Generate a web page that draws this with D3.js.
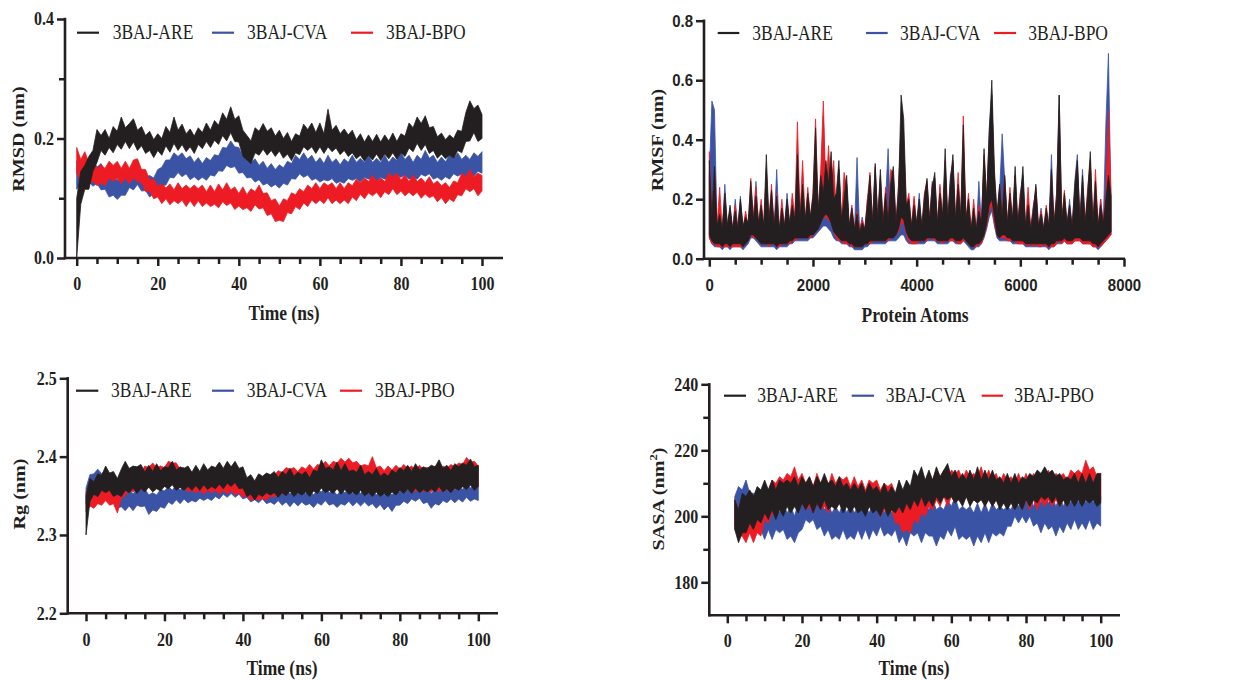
<!DOCTYPE html>
<meta charset="utf-8">
<title>3BAJ MD analysis</title>
<style>
  body { margin: 0; background: #fff; }
</style>
<svg width="1241" height="680"></svg>
<script src="https://d3js.org/d3.v7.min.js"></script>
<script>

// ---- data ----
// the traces are very noisy, so each series is kept as the upper and the
// lower edge of its band, read once per ns (or once per 50 atoms for RMSF)

// RMSD (nm), 0..100 ns
var rmsdAREhi = [0.10,0.145,0.155,0.17,0.18,0.215,0.205,0.215,0.20,0.22,
  0.212,0.236,0.218,0.225,0.233,0.214,0.22,0.205,0.212,0.198,
  0.208,0.20,0.22,0.21,0.236,0.214,0.224,0.208,0.216,0.204,
  0.218,0.21,0.226,0.214,0.23,0.222,0.243,0.232,0.253,0.232,
  0.238,0.214,0.205,0.196,0.218,0.212,0.225,0.212,0.218,0.204,
  0.214,0.20,0.21,0.195,0.208,0.204,0.224,0.215,0.226,0.21,
  0.226,0.208,0.249,0.214,0.222,0.208,0.216,0.206,0.214,0.198,
  0.208,0.194,0.206,0.195,0.207,0.194,0.206,0.196,0.209,0.195,
  0.208,0.204,0.226,0.218,0.236,0.225,0.238,0.218,0.22,0.203,
  0.209,0.198,0.206,0.20,0.214,0.212,0.243,0.263,0.25,0.256,0.24];
var rmsdARElo = [0.0,0.09,0.115,0.115,0.145,0.16,0.18,0.172,0.185,0.176,
  0.19,0.182,0.195,0.183,0.194,0.18,0.188,0.175,0.18,0.168,
  0.18,0.172,0.188,0.177,0.192,0.18,0.19,0.178,0.186,0.175,
  0.19,0.183,0.195,0.185,0.197,0.19,0.205,0.196,0.21,0.195,
  0.194,0.17,0.164,0.158,0.176,0.172,0.182,0.172,0.18,0.17,
  0.179,0.167,0.174,0.163,0.176,0.173,0.186,0.18,0.186,0.175,
  0.186,0.175,0.186,0.178,0.184,0.173,0.18,0.17,0.176,0.166,
  0.172,0.162,0.172,0.164,0.174,0.163,0.174,0.166,0.176,0.165,
  0.176,0.17,0.184,0.178,0.192,0.18,0.19,0.175,0.18,0.167,
  0.174,0.166,0.172,0.166,0.18,0.176,0.195,0.196,0.21,0.195,0.20];
var rmsdCVAhi = [0.162,0.158,0.166,0.156,0.166,0.152,0.158,0.145,0.142,0.13,
  0.132,0.126,0.138,0.142,0.15,0.146,0.148,0.136,0.138,0.134,
  0.148,0.152,0.164,0.164,0.176,0.17,0.176,0.166,0.171,0.16,
  0.168,0.158,0.168,0.163,0.173,0.171,0.185,0.184,0.196,0.186,
  0.185,0.17,0.176,0.16,0.166,0.155,0.162,0.15,0.158,0.148,
  0.156,0.151,0.162,0.158,0.172,0.165,0.176,0.165,0.172,0.16,
  0.168,0.158,0.172,0.16,0.166,0.156,0.166,0.16,0.172,0.16,
  0.167,0.16,0.172,0.16,0.167,0.16,0.172,0.16,0.169,0.163,
  0.176,0.165,0.172,0.16,0.172,0.165,0.18,0.167,0.172,0.16,
  0.169,0.161,0.172,0.165,0.176,0.165,0.172,0.165,0.176,0.17,0.178];
var rmsdCVAlo = [0.115,0.124,0.118,0.128,0.12,0.125,0.114,0.115,0.102,0.105,
  0.098,0.105,0.105,0.118,0.114,0.123,0.112,0.113,0.102,0.108,
  0.107,0.121,0.122,0.135,0.134,0.143,0.136,0.141,0.131,0.136,
  0.13,0.135,0.13,0.139,0.137,0.146,0.145,0.155,0.151,0.153,
  0.142,0.143,0.134,0.135,0.127,0.131,0.122,0.125,0.119,0.123,
  0.117,0.125,0.122,0.133,0.132,0.141,0.135,0.139,0.13,0.133,
  0.127,0.131,0.129,0.133,0.125,0.128,0.125,0.133,0.13,0.133,
  0.127,0.135,0.132,0.135,0.127,0.135,0.132,0.136,0.13,0.138,
  0.135,0.139,0.132,0.135,0.132,0.14,0.137,0.141,0.132,0.135,
  0.13,0.136,0.132,0.141,0.137,0.141,0.133,0.141,0.137,0.145,0.142];
var rmsdBPOhi = [0.185,0.165,0.178,0.16,0.162,0.15,0.156,0.15,0.162,0.155,
  0.162,0.15,0.162,0.15,0.164,0.166,0.148,0.148,0.13,0.133,
  0.12,0.124,0.117,0.124,0.114,0.126,0.116,0.122,0.116,0.122,
  0.116,0.122,0.111,0.122,0.111,0.124,0.114,0.126,0.114,0.119,
  0.108,0.119,0.106,0.116,0.111,0.122,0.108,0.109,0.096,0.099,
  0.087,0.099,0.096,0.109,0.106,0.116,0.111,0.122,0.116,0.126,
  0.116,0.126,0.121,0.126,0.116,0.126,0.116,0.126,0.121,0.132,
  0.126,0.134,0.128,0.139,0.128,0.134,0.128,0.142,0.136,0.142,
  0.131,0.139,0.128,0.139,0.128,0.134,0.126,0.136,0.124,0.129,
  0.121,0.126,0.118,0.129,0.126,0.142,0.136,0.148,0.136,0.142,0.138];
var rmsdBPOlo = [0.142,0.128,0.134,0.124,0.129,0.121,0.126,0.121,0.134,0.128,
  0.134,0.124,0.134,0.124,0.134,0.128,0.126,0.111,0.112,0.099,
  0.102,0.091,0.099,0.089,0.096,0.091,0.097,0.086,0.096,0.086,
  0.096,0.086,0.092,0.086,0.09,0.084,0.094,0.088,0.092,0.081,
  0.087,0.081,0.084,0.078,0.089,0.082,0.084,0.071,0.074,0.061,
  0.063,0.061,0.076,0.074,0.086,0.081,0.092,0.086,0.097,0.091,
  0.097,0.091,0.101,0.091,0.097,0.091,0.097,0.091,0.102,0.096,
  0.107,0.099,0.109,0.104,0.11,0.101,0.111,0.106,0.116,0.106,
  0.112,0.104,0.11,0.104,0.11,0.10,0.107,0.101,0.104,0.094,
  0.101,0.091,0.099,0.094,0.106,0.104,0.116,0.111,0.116,0.104,0.112];

// RMSF (nm), every 50 atoms, 0..7750
var rmsfAREhi = [0.33,0.14,0.31,0.11,0.15,0.10,0.22,0.11,0.18,0.10,
  0.16,0.10,0.20,0.11,0.14,0.12,0.26,0.13,0.21,0.12,
  0.18,0.11,0.35,0.13,0.23,0.11,0.21,0.10,0.17,0.11,
  0.20,0.12,0.18,0.13,0.35,0.14,0.25,0.13,0.22,0.14,
  0.21,0.44,0.16,0.28,0.22,0.33,0.25,0.36,0.20,0.22,
  0.33,0.13,0.20,0.28,0.11,0.17,0.10,0.15,0.09,0.12,
  0.10,0.18,0.28,0.12,0.32,0.13,0.30,0.12,0.22,0.13,
  0.25,0.31,0.12,0.22,0.55,0.47,0.18,0.20,0.11,0.18,
  0.12,0.20,0.11,0.21,0.27,0.13,0.24,0.29,0.12,0.22,
  0.14,0.37,0.13,0.26,0.35,0.13,0.25,0.14,0.45,0.13,
  0.20,0.10,0.17,0.10,0.16,0.12,0.37,0.20,0.42,0.60,
  0.30,0.15,0.25,0.14,0.28,0.12,0.22,0.13,0.31,0.12,
  0.20,0.31,0.11,0.18,0.10,0.16,0.25,0.11,0.15,0.10,
  0.17,0.11,0.30,0.12,0.20,0.55,0.13,0.22,0.12,0.18,
  0.11,0.24,0.33,0.13,0.28,0.12,0.22,0.36,0.12,0.26,
  0.11,0.18,0.12,0.20,0.28,0.21];
var rmsfARElo = [0.08,0.06,0.05,0.05,0.05,0.04,0.05,0.05,0.04,0.05,
  0.05,0.05,0.05,0.04,0.05,0.06,0.08,0.08,0.07,0.06,
  0.05,0.05,0.05,0.05,0.05,0.05,0.04,0.05,0.05,0.05,
  0.05,0.06,0.06,0.07,0.07,0.07,0.07,0.07,0.07,0.08,
  0.08,0.09,0.10,0.12,0.14,0.15,0.14,0.12,0.09,0.08,
  0.07,0.06,0.06,0.06,0.05,0.05,0.04,0.04,0.04,0.04,
  0.05,0.05,0.06,0.06,0.06,0.06,0.06,0.06,0.06,0.07,
  0.07,0.07,0.08,0.10,0.14,0.13,0.09,0.07,0.06,0.06,
  0.06,0.06,0.06,0.06,0.07,0.07,0.07,0.07,0.06,0.06,
  0.06,0.06,0.06,0.07,0.07,0.06,0.06,0.06,0.07,0.06,
  0.05,0.04,0.04,0.05,0.05,0.06,0.08,0.12,0.18,0.20,
  0.14,0.08,0.07,0.08,0.08,0.07,0.07,0.06,0.06,0.06,
  0.06,0.06,0.05,0.05,0.05,0.05,0.05,0.05,0.05,0.05,
  0.05,0.04,0.05,0.05,0.06,0.06,0.06,0.07,0.06,0.06,
  0.06,0.07,0.07,0.07,0.06,0.06,0.06,0.06,0.05,0.05,
  0.04,0.05,0.06,0.07,0.08,0.09];
var rmsfCVAhi = [0.28,0.53,0.50,0.10,0.17,0.09,0.25,0.10,0.16,0.09,
  0.20,0.10,0.21,0.09,0.15,0.10,0.22,0.13,0.26,0.11,
  0.16,0.10,0.22,0.12,0.20,0.10,0.30,0.09,0.15,0.10,
  0.22,0.11,0.16,0.12,0.30,0.13,0.20,0.12,0.18,0.13,
  0.19,0.38,0.14,0.25,0.48,0.18,0.30,0.19,0.28,0.13,
  0.30,0.12,0.18,0.25,0.10,0.15,0.09,0.34,0.09,0.14,
  0.09,0.20,0.25,0.11,0.30,0.12,0.27,0.11,0.20,0.37,
  0.12,0.28,0.11,0.25,0.40,0.30,0.15,0.18,0.10,0.20,
  0.11,0.22,0.10,0.18,0.25,0.12,0.26,0.24,0.11,0.24,
  0.13,0.30,0.12,0.28,0.32,0.12,0.23,0.13,0.40,0.12,
  0.18,0.09,0.15,0.09,0.26,0.11,0.33,0.16,0.44,0.55,
  0.25,0.13,0.22,0.42,0.26,0.11,0.20,0.12,0.28,0.11,
  0.22,0.28,0.10,0.20,0.10,0.18,0.22,0.10,0.17,0.10,
  0.15,0.10,0.35,0.11,0.22,0.55,0.12,0.20,0.11,0.20,
  0.10,0.26,0.35,0.12,0.30,0.11,0.20,0.32,0.11,0.24,
  0.10,0.20,0.11,0.45,0.69,0.18];
var rmsfCVAlo = [0.07,0.05,0.04,0.04,0.04,0.03,0.04,0.04,0.03,0.04,
  0.04,0.04,0.04,0.03,0.04,0.05,0.07,0.07,0.06,0.05,
  0.04,0.04,0.04,0.04,0.04,0.04,0.03,0.04,0.04,0.04,
  0.04,0.05,0.05,0.06,0.06,0.06,0.06,0.06,0.06,0.07,
  0.07,0.08,0.09,0.10,0.11,0.11,0.10,0.09,0.07,0.06,
  0.06,0.05,0.05,0.05,0.04,0.04,0.03,0.03,0.03,0.03,
  0.04,0.04,0.05,0.05,0.05,0.05,0.05,0.05,0.05,0.06,
  0.06,0.06,0.06,0.07,0.08,0.08,0.06,0.05,0.05,0.05,
  0.05,0.05,0.05,0.05,0.06,0.06,0.06,0.06,0.05,0.05,
  0.05,0.05,0.05,0.06,0.06,0.05,0.05,0.05,0.06,0.05,
  0.04,0.03,0.03,0.04,0.04,0.05,0.07,0.10,0.14,0.16,
  0.11,0.07,0.06,0.06,0.06,0.06,0.06,0.05,0.05,0.05,
  0.05,0.05,0.04,0.04,0.04,0.04,0.04,0.04,0.04,0.04,
  0.04,0.03,0.04,0.04,0.05,0.05,0.05,0.06,0.05,0.05,
  0.05,0.06,0.06,0.06,0.05,0.05,0.05,0.05,0.04,0.04,
  0.03,0.04,0.05,0.06,0.07,0.08];
var rmsfBPOhi = [0.36,0.14,0.28,0.11,0.24,0.10,0.20,0.11,0.17,0.10,
  0.18,0.10,0.19,0.10,0.16,0.11,0.27,0.14,0.24,0.12,
  0.20,0.11,0.30,0.13,0.25,0.11,0.22,0.10,0.20,0.11,
  0.18,0.12,0.22,0.14,0.46,0.15,0.33,0.13,0.24,0.14,
  0.22,0.47,0.16,0.30,0.53,0.22,0.38,0.23,0.33,0.15,
  0.30,0.13,0.29,0.24,0.11,0.18,0.10,0.16,0.10,0.13,
  0.10,0.20,0.29,0.12,0.31,0.13,0.28,0.12,0.24,0.13,
  0.30,0.29,0.12,0.24,0.45,0.40,0.18,0.22,0.11,0.21,
  0.12,0.18,0.11,0.22,0.26,0.13,0.25,0.27,0.12,0.25,
  0.14,0.33,0.13,0.25,0.33,0.13,0.29,0.14,0.48,0.13,
  0.22,0.10,0.20,0.10,0.18,0.12,0.35,0.20,0.40,0.52,
  0.28,0.15,0.24,0.15,0.27,0.12,0.24,0.13,0.28,0.12,
  0.22,0.25,0.11,0.24,0.10,0.17,0.24,0.11,0.16,0.10,
  0.18,0.11,0.28,0.12,0.22,0.50,0.13,0.23,0.12,0.17,
  0.11,0.22,0.30,0.13,0.26,0.12,0.24,0.33,0.12,0.30,
  0.11,0.20,0.12,0.22,0.50,0.22];
var rmsfBPOlo = [0.07,0.05,0.05,0.04,0.04,0.04,0.04,0.04,0.04,0.04,
  0.04,0.04,0.04,0.04,0.05,0.06,0.08,0.07,0.07,0.06,
  0.05,0.05,0.05,0.04,0.05,0.05,0.04,0.04,0.05,0.05,
  0.05,0.05,0.06,0.06,0.07,0.07,0.07,0.07,0.07,0.07,
  0.08,0.09,0.10,0.12,0.14,0.14,0.13,0.12,0.09,0.07,
  0.06,0.06,0.05,0.05,0.05,0.04,0.04,0.04,0.04,0.04,
  0.05,0.05,0.05,0.06,0.06,0.06,0.06,0.06,0.06,0.06,
  0.07,0.07,0.08,0.09,0.12,0.12,0.08,0.06,0.05,0.05,
  0.05,0.06,0.06,0.06,0.06,0.07,0.07,0.06,0.06,0.06,
  0.05,0.06,0.06,0.06,0.06,0.06,0.05,0.05,0.06,0.06,
  0.05,0.04,0.04,0.04,0.05,0.05,0.08,0.11,0.16,0.18,
  0.12,0.08,0.07,0.07,0.07,0.06,0.06,0.06,0.06,0.05,
  0.05,0.05,0.05,0.04,0.05,0.04,0.05,0.04,0.04,0.05,
  0.04,0.04,0.04,0.04,0.05,0.06,0.05,0.06,0.05,0.05,
  0.05,0.06,0.06,0.06,0.05,0.05,0.05,0.05,0.04,0.04,
  0.04,0.04,0.05,0.06,0.07,0.08];

// Rg (nm), 0..100 ns
var rgAREhi = [2.35,2.372,2.368,2.378,2.376,2.388,2.379,2.381,2.372,2.384,
  2.394,2.385,2.388,2.387,2.39,2.38,2.389,2.381,2.391,2.382,
  2.387,2.386,2.394,2.383,2.387,2.385,2.388,2.38,2.389,2.381,
  2.391,2.383,2.388,2.386,2.393,2.385,2.394,2.387,2.394,2.385,
  2.387,2.373,2.377,2.369,2.378,2.375,2.379,2.377,2.381,2.373,
  2.381,2.377,2.385,2.375,2.38,2.377,2.381,2.373,2.383,2.381,
  2.396,2.385,2.387,2.383,2.393,2.382,2.391,2.381,2.383,2.38,
  2.389,2.377,2.381,2.377,2.385,2.375,2.379,2.375,2.383,2.379,
  2.386,2.382,2.389,2.381,2.391,2.383,2.387,2.385,2.389,2.387,
  2.396,2.385,2.389,2.382,2.391,2.387,2.392,2.389,2.397,2.387,2.389];
var rgARElo = [2.30,2.343,2.352,2.349,2.357,2.354,2.357,2.349,2.352,2.349,
  2.357,2.354,2.36,2.353,2.359,2.355,2.361,2.355,2.359,2.356,
  2.362,2.359,2.364,2.357,2.361,2.357,2.362,2.357,2.363,2.357,
  2.364,2.358,2.362,2.359,2.365,2.359,2.366,2.362,2.367,2.359,
  2.36,2.349,2.352,2.345,2.352,2.349,2.354,2.351,2.354,2.348,
  2.354,2.35,2.356,2.349,2.354,2.351,2.355,2.349,2.356,2.353,
  2.36,2.354,2.357,2.353,2.359,2.352,2.358,2.352,2.355,2.351,
  2.357,2.35,2.354,2.349,2.355,2.349,2.353,2.349,2.355,2.351,
  2.357,2.353,2.359,2.353,2.36,2.354,2.358,2.355,2.359,2.355,
  2.362,2.355,2.359,2.354,2.36,2.357,2.362,2.358,2.364,2.357,2.362];
var rgCVAhi = [2.36,2.377,2.378,2.384,2.378,2.384,2.375,2.377,2.358,2.36,
  2.354,2.359,2.352,2.36,2.357,2.359,2.351,2.354,2.351,2.358,
  2.356,2.362,2.357,2.364,2.357,2.364,2.357,2.36,2.357,2.364,
  2.359,2.362,2.359,2.366,2.362,2.368,2.363,2.37,2.363,2.369,
  2.361,2.364,2.357,2.36,2.355,2.362,2.355,2.358,2.354,2.36,
  2.353,2.359,2.352,2.358,2.352,2.359,2.353,2.357,2.351,2.358,
  2.355,2.362,2.354,2.357,2.351,2.357,2.354,2.36,2.353,2.359,
  2.353,2.359,2.353,2.357,2.351,2.357,2.351,2.357,2.351,2.358,
  2.355,2.36,2.357,2.364,2.361,2.365,2.357,2.36,2.353,2.359,
  2.355,2.362,2.357,2.364,2.357,2.364,2.358,2.366,2.36,2.364,2.362];
var rgCVAlo = [2.34,2.352,2.35,2.357,2.353,2.355,2.348,2.347,2.334,2.336,
  2.331,2.337,2.331,2.338,2.336,2.337,2.326,2.332,2.33,2.336,
  2.334,2.342,2.339,2.345,2.34,2.346,2.341,2.344,2.342,2.347,
  2.344,2.347,2.344,2.349,2.346,2.352,2.348,2.353,2.348,2.352,
  2.346,2.348,2.342,2.345,2.341,2.346,2.34,2.342,2.339,2.344,
  2.338,2.342,2.336,2.342,2.337,2.342,2.338,2.34,2.335,2.341,
  2.338,2.344,2.338,2.34,2.335,2.34,2.338,2.343,2.337,2.342,
  2.337,2.342,2.337,2.34,2.334,2.339,2.332,2.337,2.33,2.338,
  2.338,2.343,2.34,2.346,2.343,2.347,2.34,2.342,2.334,2.34,
  2.338,2.344,2.341,2.346,2.341,2.346,2.342,2.348,2.343,2.346,2.344];
var rgPBOhi = [2.355,2.362,2.36,2.362,2.356,2.362,2.356,2.357,2.348,2.367,
  2.37,2.378,2.376,2.382,2.38,2.388,2.386,2.392,2.386,2.388,
  2.386,2.394,2.392,2.392,2.384,2.386,2.378,2.38,2.378,2.38,
  2.374,2.38,2.378,2.38,2.374,2.38,2.374,2.38,2.373,2.376,
  2.37,2.372,2.366,2.368,2.366,2.372,2.37,2.377,2.376,2.382,
  2.38,2.386,2.384,2.386,2.381,2.387,2.384,2.39,2.384,2.39,
  2.388,2.394,2.388,2.394,2.392,2.398,2.393,2.398,2.392,2.394,
  2.388,2.39,2.388,2.40,2.386,2.388,2.382,2.388,2.383,2.389,
  2.384,2.39,2.385,2.388,2.383,2.389,2.384,2.386,2.383,2.388,
  2.383,2.388,2.385,2.39,2.387,2.392,2.39,2.399,2.393,2.394,2.388];
var rgPBOlo = [2.33,2.337,2.334,2.34,2.338,2.344,2.338,2.34,2.328,2.347,
  2.35,2.357,2.355,2.36,2.358,2.364,2.361,2.366,2.361,2.364,
  2.362,2.368,2.365,2.366,2.36,2.362,2.355,2.357,2.354,2.357,
  2.352,2.357,2.354,2.357,2.352,2.357,2.352,2.357,2.351,2.354,
  2.348,2.35,2.344,2.347,2.344,2.347,2.344,2.35,2.348,2.354,
  2.352,2.357,2.355,2.358,2.354,2.359,2.356,2.362,2.356,2.362,
  2.36,2.365,2.36,2.365,2.362,2.368,2.364,2.369,2.363,2.365,
  2.36,2.362,2.359,2.364,2.358,2.36,2.355,2.36,2.355,2.36,
  2.356,2.362,2.357,2.36,2.355,2.36,2.355,2.358,2.355,2.36,
  2.355,2.36,2.357,2.362,2.358,2.364,2.361,2.368,2.363,2.365,2.362];

// SASA (nm^2), 2..100 ns
var sasaAREhi = [205,202,207,206,208,206,209,208,
  211,208,211,208,211,210,211,210,212,209,
  212,210,212,209,212,210,213,210,211,209,
  212,209,210,208,210,208,210,207,210,208,
  209,207,210,207,209,207,211,208,211,209,
  214,212,215,211,214,211,215,212,214,216,
  212,214,211,213,211,214,211,215,211,214,
  211,214,211,212,210,213,210,213,210,212,
  211,213,212,214,213,215,213,214,212,213,
  211,212,211,213,210,213,210,213,210,213,213];
var sasaARElo = [196,192,195,195,198,196,199,198,
  201,199,202,199,202,200,203,201,203,201,
  204,202,204,201,204,202,205,202,203,202,
  204,201,203,201,203,201,202,200,203,201,
  202,200,203,200,202,201,203,201,204,202,
  205,203,206,203,205,203,206,204,206,205,
  206,204,205,203,206,203,205,204,205,203,
  205,203,205,202,204,202,204,202,204,202,
  205,203,205,204,206,205,206,204,206,203,
  205,203,205,203,205,203,205,204,205,203,204];
var sasaCVAhi = [206,209,208,211,207,207,204,205,
  202,204,201,204,201,204,201,203,200,204,
  204,207,206,207,204,205,202,204,201,203,
  201,204,201,204,201,203,202,203,201,204,
  202,204,201,204,201,204,201,204,203,206,
  202,203,202,203,202,205,202,203,202,205,
  203,206,202,203,202,203,201,204,201,204,
  201,204,202,203,202,203,202,205,203,205,
  204,206,203,206,204,207,204,206,203,206,
  203,206,204,207,204,207,204,207,204,207,206];
var sasaCVAlo = [197,200,199,202,198,198,195,196,
  193,196,193,196,195,196,193,194,192,195,
  196,199,198,199,196,197,194,196,193,194,
  193,196,193,194,193,196,193,196,193,196,
  194,197,194,195,194,196,192,194,191,195,
  194,195,192,195,194,194,191,194,193,196,
  194,197,193,194,193,194,191,194,192,195,
  192,195,194,195,194,197,197,200,198,200,
  198,200,197,198,195,198,196,197,194,197,
  195,198,196,199,196,198,196,199,196,198,197];
var sasaPBOhi = [205,202,203,200,203,202,205,204,
  209,208,211,210,212,211,213,212,215,211,
  213,210,212,209,213,210,211,209,213,210,
  212,211,212,209,212,209,211,208,211,210,
  211,208,210,209,210,207,208,205,206,205,
  209,209,211,210,212,211,214,212,214,211,
  214,213,214,211,214,212,213,212,215,211,
  214,211,213,210,213,211,212,210,213,210,
  213,210,213,210,213,211,214,211,213,212,
  213,211,214,213,214,213,217,214,215,212,213];
var sasaPBOlo = [196,194,194,192,195,192,195,194,
  199,198,201,200,203,201,204,202,205,202,
  204,202,203,201,204,202,203,201,204,202,
  204,202,204,201,204,201,203,201,203,202,
  203,200,202,201,202,198,198,195,196,195,
  199,198,201,200,203,202,205,203,206,203,
  206,204,206,204,206,204,205,204,206,203,
  206,203,205,203,205,203,205,202,205,202,
  205,202,205,202,205,203,205,203,205,203,
  205,203,206,204,206,204,207,205,206,204,205];

var timeTicks = [0, 20, 40, 60, 80, 100];
var atomTicks = [0, 2000, 4000, 6000, 8000];

// ---- drawing ----

var svg = d3.select("svg");
var ink = "#231f20";
var cBlack = "#231f20", cBlue = "#3a53a4", cRed = "#ed1c24";
var serif = "'Liberation Serif', 'Times New Roman', serif";
var sans = "'Liberation Sans', Arial, sans-serif";
var SY = 1.15; // glyphs in the figure are drawn a little taller than wide

function minorOf(start, stop, step, every) {
  return d3.range(start, stop + step / 2, step).filter(function(v) {
    return Math.abs(v / every - Math.round(v / every)) > 1e-6;
  });
}

function drawPanel(p) {
  var g = svg.append("g");
  var bottom = p.y.range()[0], top = p.y.range()[1];

  var band = d3.area()
    .x(function(d) { return p.x(d.t); })
    .y0(function(d) { return p.y(d.lo); })
    .y1(function(d) { return p.y(d.hi); });

  p.series.forEach(function(s) {
    var n = Math.min(s.hi.length, s.lo.length);
    var pts = d3.range(n).map(function(i) {
      return {t: p.start + i * p.step, hi: s.hi[i], lo: s.lo[i]};
    });
    g.append("path")
      .datum(pts)
      .attr("d", band)
      .attr("fill", s.color)
      .attr("stroke", s.color)
      .attr("stroke-width", 0.8)
      .attr("stroke-linejoin", "round");
  });

  // x axis: minor then major ticks
  var gxm = g.append("g").attr("transform", "translate(0," + bottom + ")")
    .call(d3.axisBottom(p.x).tickValues(p.xMinor).tickSize(6).tickFormat(""));
  var gx = g.append("g").attr("transform", "translate(0," + bottom + ")")
    .call(d3.axisBottom(p.x).tickValues(p.xMajor).tickSize(8).tickFormat(p.xFmt));
  // y axis
  var gym = g.append("g").attr("transform", "translate(" + p.left + ",0)")
    .call(d3.axisLeft(p.y).tickValues(p.yMinor).tickSize(6).tickFormat(""));
  var gy = g.append("g").attr("transform", "translate(" + p.left + ",0)")
    .call(d3.axisLeft(p.y).tickValues(p.yMajor).tickSize(8).tickPadding(3).tickFormat(p.yFmt));

  [gxm, gx, gym, gy].forEach(function(a) {
    a.select(".domain").remove();
    a.style("color", ink)
      .attr("font-family", p.tickFont)
      .attr("font-size", p.tickSize)
      .attr("font-weight", "bold");
    a.selectAll("line").attr("stroke-width", 2.5);
  });
  gx.selectAll("text")
    .attr("y", 0).attr("dy", null)
    .attr("transform", "translate(0," + p.xLabelBase + ") scale(1," + SY + ")");
  gy.selectAll("text")
    .attr("transform", "scale(1," + SY + ")");

  g.append("line")
    .attr("x1", p.left).attr("x2", p.right)
    .attr("y1", bottom).attr("y2", bottom)
    .attr("stroke", ink).attr("stroke-width", 2.6);
  g.append("line")
    .attr("x1", p.left).attr("x2", p.left)
    .attr("y1", bottom + 1.3).attr("y2", top - 1.2)
    .attr("stroke", ink).attr("stroke-width", 2.6);

  // axis titles
  g.append("text")
    .attr("transform", "translate(" + p.xTitle[0] + "," + p.xTitle[1] + ") scale(1," + SY + ")")
    .attr("text-anchor", "middle")
    .attr("font-family", serif).attr("font-weight", "bold").attr("font-size", 17.5)
    .attr("fill", ink)
    .text(p.xLabel);
  var yt = g.append("text")
    .attr("transform", "translate(" + p.yTitle[0] + "," + p.yTitle[1] + ") scale(1," + SY + ") rotate(-90)")
    .attr("text-anchor", "middle")
    .attr("font-family", serif).attr("font-weight", "bold").attr("font-size", 17.5)
    .attr("fill", ink);
  yt.append("tspan").text(p.yLabel[0]);
  if (p.yLabel.length > 1) {
    yt.append("tspan").attr("font-size", 11).attr("dy", -7).text(p.yLabel[1]);
    yt.append("tspan").attr("dy", 7).text(p.yLabel[2]);
  }

  // legend
  p.legend.forEach(function(l, i) {
    var s = p.legendOrder[i];
    g.append("line")
      .attr("x1", l[0]).attr("x2", l[1])
      .attr("y1", p.legendY).attr("y2", p.legendY)
      .attr("stroke", s.color).attr("stroke-width", 2.2);
    g.append("text")
      .attr("transform", "translate(" + l[2] + "," + (p.legendY + 6.5) + ") scale(1," + SY + ")")
      .attr("font-family", serif).attr("font-size", 17.5)
      .attr("fill", ink)
      .text(s.name);
  });
}

var fmt1 = d3.format(".1f");

// RMSD
var sA = {name: "3BAJ-ARE", color: cBlack, hi: rmsdAREhi, lo: rmsdARElo},
    sC = {name: "3BAJ-CVA", color: cBlue, hi: rmsdCVAhi, lo: rmsdCVAlo},
    sB = {name: "3BAJ-BPO", color: cRed, hi: rmsdBPOhi, lo: rmsdBPOlo};
drawPanel({
  x: d3.scaleLinear().domain([0, 100]).range([76.7, 482]),
  y: d3.scaleLinear().domain([0, 0.4]).range([258, 19]),
  left: 65, right: 503, start: 0, step: 1,
  xMajor: timeTicks, xMinor: minorOf(0, 100, 5, 20), xFmt: d3.format("d"),
  yMajor: [0, 0.2, 0.4], yMinor: [0.1, 0.3], yFmt: fmt1,
  tickFont: serif, tickSize: 16, xLabelBase: 31.5,
  series: [sC, sB, sA], legendOrder: [sA, sC, sB],
  xLabel: "Time (ns)", xTitle: [284, 320], yLabel: ["RMSD (nm)"], yTitle: [24, 139],
  legendY: 32.7, legend: [[77, 99, 112.7], [212, 234, 247], [351, 373, 386]]
});

// RMSF
var fA = {name: "3BAJ-ARE", color: cBlack, hi: rmsfAREhi, lo: rmsfARElo},
    fC = {name: "3BAJ-CVA", color: cBlue, hi: rmsfCVAhi, lo: rmsfCVAlo},
    fB = {name: "3BAJ-BPO", color: cRed, hi: rmsfBPOhi, lo: rmsfBPOlo};
drawPanel({
  x: d3.scaleLinear().domain([0, 8000]).range([709.3, 1124]),
  y: d3.scaleLinear().domain([0, 0.8]).range([258.7, 20.7]),
  left: 704, right: 1125, start: 0, step: 50,
  xMajor: atomTicks, xMinor: minorOf(0, 8000, 500, 2000), xFmt: d3.format("d"),
  yMajor: [0, 0.2, 0.4, 0.6, 0.8], yMinor: [], yFmt: fmt1,
  tickFont: sans, tickSize: 15, xLabelBase: 32.5,
  series: [fC, fB, fA], legendOrder: [fA, fC, fB],
  xLabel: "Protein Atoms", xTitle: [915, 322], yLabel: ["RMSF (nm)"], yTitle: [663, 140],
  legendY: 33, legend: [[717.7, 739.3, 752.3], [866, 887.7, 900], [994, 1016, 1028.3]]
});

// Rg
var gA = {name: "3BAJ-ARE", color: cBlack, hi: rgAREhi, lo: rgARElo},
    gC = {name: "3BAJ-CVA", color: cBlue, hi: rgCVAhi, lo: rgCVAlo},
    gP = {name: "3BAJ-PBO", color: cRed, hi: rgPBOhi, lo: rgPBOlo};
drawPanel({
  x: d3.scaleLinear().domain([0, 100]).range([86, 478.3]),
  y: d3.scaleLinear().domain([2.2, 2.5]).range([613.3, 378.3]),
  left: 67.7, right: 498, start: 0, step: 1,
  xMajor: timeTicks, xMinor: minorOf(0, 100, 5, 20), xFmt: d3.format("d"),
  yMajor: [2.2, 2.3, 2.4, 2.5], yMinor: [], yFmt: fmt1,
  tickFont: serif, tickSize: 16, xLabelBase: 33,
  series: [gC, gP, gA], legendOrder: [gA, gC, gP],
  xLabel: "Time (ns)", xTitle: [282, 675], yLabel: ["Rg (nm)"], yTitle: [25, 494],
  legendY: 390.7, legend: [[76, 98.3, 111], [212, 234, 246.7], [340, 362, 375]]
});

// SASA
var aA = {name: "3BAJ-ARE", color: cBlack, hi: sasaAREhi, lo: sasaARElo},
    aC = {name: "3BAJ-CVA", color: cBlue, hi: sasaCVAhi, lo: sasaCVAlo},
    aP = {name: "3BAJ-PBO", color: cRed, hi: sasaPBOhi, lo: sasaPBOlo};
drawPanel({
  x: d3.scaleLinear().domain([0, 100]).range([727.3, 1100.7]),
  y: d3.scaleLinear().domain([170, 240]).range([615.3, 384.3]),
  left: 709.3, right: 1120, start: 2, step: 1,
  xMajor: timeTicks, xMinor: minorOf(0, 100, 5, 20), xFmt: d3.format("d"),
  yMajor: [180, 200, 220, 240], yMinor: [190, 210, 230], yFmt: d3.format("d"),
  tickFont: serif, tickSize: 16, xLabelBase: 32,
  series: [aC, aP, aA], legendOrder: [aA, aC, aP],
  xLabel: "Time (ns)", xTitle: [914, 675], yLabel: ["SASA (nm", "2", ")"], yTitle: [664, 499],
  legendY: 395.7, legend: [[724, 746, 757.3], [851.7, 874, 885.7], [981.7, 1003, 1014.3]]
});

</script>
